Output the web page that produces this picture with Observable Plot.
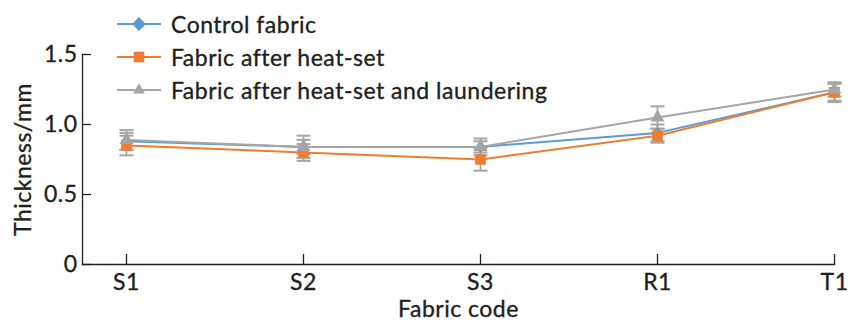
<!DOCTYPE html>
<html><head><meta charset="utf-8">
<script src="https://cdn.jsdelivr.net/npm/d3@7"></script>
<script src="https://cdn.jsdelivr.net/npm/@observablehq/plot@0.6"></script>
<style>
body{margin:0;background:#fff;}
#wrap{position:relative;width:849px;height:323px;font-family:Lato,"Open Sans",sans-serif;color:#231f20;}
#wrap > svg{display:block;letter-spacing:0.5px;}
#wrap > svg text{stroke:#231f20;stroke-width:0.35px;}
#legend{position:absolute;left:115px;top:7px;font-size:23px;letter-spacing:0.5px;-webkit-text-stroke:0.35px #231f20;}
.li{display:flex;align-items:center;height:33px;}
.li svg{margin-right:8px;}
</style></head>
<body><div id="wrap"><div id="legend"></div></div>
<script>
const categories = ["S1","S2","S3","R1","T1"];
const seriesNames = ["Control fabric","Fabric after heat-set","Fabric after heat-set and laundering"];
const control = [0.88,0.84,0.84,0.94,1.23];
const controlErr = [0.06,0.05,0.04,0.06,0.06];
const heatSet = [0.85,0.80,0.75,0.92,1.23];
const heatSetErr = [0.07,0.06,0.08,0.05,0.07];
const laundered = [0.89,0.84,0.84,1.05,1.25];
const launderedErr = [0.07,0.08,0.06,0.08,0.05];
const yTicks = [0,0.5,1.0,1.5];
const yTickLabels = ["0","0.5","1.0","1.5"];

const colors = ["#5b9bd5","#ed7d31","#a5a5a5"];
const symbols = ["diamond2","square","triangle"];
const radii = [5.2,6.0,5.2];
const legendRadii = [6.2,6.0,5.6];
const errColor = "#a5a5a5";
const capSymbol = {draw(ctx){ ctx.moveTo(-7,0); ctx.lineTo(7,0); }};

const vals = [control, heatSet, laundered];
const errs = [controlErr, heatSetErr, launderedErr];
const series = vals.map((v,s)=>categories.map((c,i)=>({cat:c, y:v[i], lo:v[i]-errs[s][i], hi:v[i]+errs[s][i], s})));

const marks = [];
series.forEach((d,s)=>{
  marks.push(Plot.ruleX(d,{x:"cat",y1:"lo",y2:"hi",stroke:errColor,strokeWidth:1.8}));
  marks.push(Plot.dot(d,{x:"cat",y:"lo",symbol:()=>capSymbol,stroke:errColor,strokeWidth:2,fill:null}));
  marks.push(Plot.dot(d,{x:"cat",y:"hi",symbol:()=>capSymbol,stroke:errColor,strokeWidth:2,fill:null}));
});
series.forEach((d,s)=>{
  marks.push(Plot.line(d,{x:"cat",y:"y",stroke:colors[s],strokeWidth:2}));
  marks.push(Plot.dot(d,{x:"cat",y:"y",symbol:()=>symbols[s],r:radii[s],fill:colors[s],stroke:null}));
});

const chart = Plot.plot({
  width:849, height:323,
  marginLeft:82, marginRight:15, marginTop:54, marginBottom:59,
  style:{fontFamily:"Lato, 'Open Sans', sans-serif", fontSize:"23px", color:"#231f20", background:"#fff"},
  x:{type:"point", domain:categories, padding:0.118, align:1},
  y:{domain:[0,1.5]},
  symbol:{type:"identity"},
  marks:[
    Plot.axisY(yTicks,{tickSize:0, tickPadding:5, tickFormat:(d,i)=>yTickLabels[i], label:"Thickness/mm", labelAnchor:"center", labelOffset:68, labelArrow:false, fontSize:23}),
    Plot.axisY(yTicks,{tickSize:-9, text:null, label:null, stroke:"#231f20", strokeWidth:1.3}),
    Plot.axisX({tickSize:0, tickPadding:9, label:"Fabric code", labelAnchor:"center", labelOffset:52, labelArrow:false, fontSize:23}),
    Plot.axisX({tickSize:-10, text:null, label:null, stroke:"#231f20", strokeWidth:1.3}),
    Plot.frame({anchor:"left", stroke:"#231f20", strokeWidth:1.3}),
    Plot.frame({anchor:"bottom", stroke:"#231f20", strokeWidth:1.3}),
    ...marks
  ]
});
document.getElementById("wrap").prepend(chart);

// legend
const lg = d3.select("#legend");
const symMap = {diamond2:d3.symbolDiamond2, square:d3.symbolSquare, triangle:d3.symbolTriangle2};
seriesNames.forEach((n,s)=>{
  const row = lg.append("div").attr("class","li");
  const sv = row.append("svg").attr("width",48).attr("height",20);
  sv.append("line").attr("x1",2).attr("x2",46).attr("y1",10).attr("y2",10).attr("stroke",colors[s]).attr("stroke-width",2);
  sv.append("path").attr("transform","translate(24,10)").attr("d",d3.symbol(symMap[symbols[s]], Math.PI*legendRadii[s]*legendRadii[s])()).attr("fill",colors[s]);
  row.append("span").text(n);
});
</script></body></html>
